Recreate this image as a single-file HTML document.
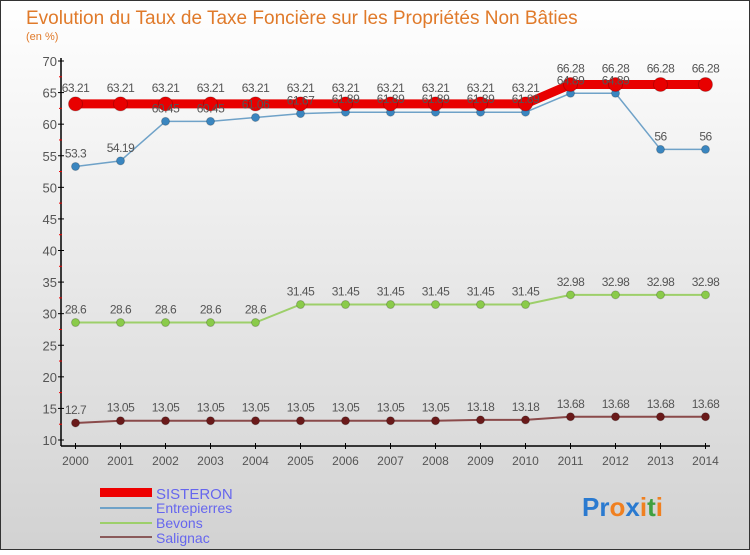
<!DOCTYPE html>
<html><head><meta charset="utf-8"><style>
body{margin:0;width:750px;height:550px;overflow:hidden;font-family:"Liberation Sans",sans-serif}
svg text{font-family:"Liberation Sans",sans-serif}
</style></head><body>
<svg id="c" width="750" height="550" xmlns="http://www.w3.org/2000/svg">
<defs><linearGradient id="bg" x1="0" y1="0" x2="0" y2="1"><stop offset="0" stop-color="#ffffff"/><stop offset="1" stop-color="#d2d2d2"/></linearGradient></defs>
<rect x="0.5" y="0.5" width="749" height="549" fill="url(#bg)" stroke="#333"/>
<text x="26" y="24" font-size="19" fill="#e07a2a">Evolution du Taux de Taxe Foncière sur les Propriétés Non Bâties</text>
<text x="26" y="40" font-size="11" fill="#e07a2a">(en %)</text>
<g id="axes"></g><g id="series"></g><g id="labels"></g>
<g>
<rect x="100" y="488" width="52" height="9" fill="#e00"/>
<text x="156" y="499" font-size="15" fill="#6666ee">SISTERON</text>
<rect x="100" y="507" width="52" height="2" fill="#6fa2c8"/>
<text x="156" y="513" font-size="14" fill="#6666ee">Entrepierres</text>
<rect x="100" y="522" width="52" height="2" fill="#9dcf6a"/>
<text x="156" y="528" font-size="14" fill="#6666ee">Bevons</text>
<rect x="100" y="536" width="52" height="2" fill="#8a5a5a"/>
<text x="156" y="543" font-size="14" fill="#6666ee">Salignac</text>
</g>
<text x="582" y="516" font-size="26" font-weight="bold"><tspan fill="#2a7ad0">Pr</tspan><tspan fill="#f08020">o</tspan><tspan fill="#2a7ad0">x</tspan><tspan fill="#f08020">i</tspan><tspan fill="#40a040">t</tspan><tspan fill="#f08020">i</tspan></text>
</svg>
<script>
const years=[2000,2001,2002,2003,2004,2005,2006,2007,2008,2009,2010,2011,2012,2013,2014];
const sisteron=[63.21,63.21,63.21,63.21,63.21,63.21,63.21,63.21,63.21,63.21,63.21,66.28,66.28,66.28,66.28];
const entrepierres=[53.3,54.19,60.45,60.45,61.06,61.67,61.89,61.89,61.89,61.89,61.89,64.89,64.89,56,56];
const bevons=[28.6,28.6,28.6,28.6,28.6,31.45,31.45,31.45,31.45,31.45,31.45,32.98,32.98,32.98,32.98];
const salignac=[12.7,13.05,13.05,13.05,13.05,13.05,13.05,13.05,13.05,13.18,13.18,13.68,13.68,13.68,13.68];
const yTicks=[10,15,20,25,30,35,40,45,50,55,60,65,70];
const NS="http://www.w3.org/2000/svg";
const X=i=>75.5+i*(705.5-75.5)/(years.length-1);
const Y=v=>440-(v-10)*(440-61)/60;
function mk(t,a,p){const e=document.createElementNS(NS,t);for(const k in a)e.setAttribute(k,a[k]);p.appendChild(e);return e;}
const ax=document.getElementById('axes'),sg=document.getElementById('series'),lg=document.getElementById('labels');
let l=mk('line',{x1:61,y1:58,x2:61,y2:446,stroke:'#000','stroke-width':1.5},ax);


l=mk('line',{x1:61,y1:446,x2:710,y2:446,stroke:'#000','stroke-width':1.5},ax);


yTicks.forEach(v=>{
 mk('line',{x1:58,x2:64,y1:Y(v),y2:Y(v),stroke:'#000'},ax);
 if(v<70)mk('line',{x1:59,x2:62,y1:Y(v+2.5),y2:Y(v+2.5),stroke:'#e00'},ax);
 const t=mk('text',{x:57,y:Y(v)+5,'font-size':13,fill:'#555','text-anchor':'end'},ax);t.textContent=v;
 
 
});
years.forEach((y,i)=>{
 mk('line',{x1:X(i),x2:X(i),y1:443,y2:449,stroke:'#000'},ax);
 const t=mk('text',{x:X(i),y:465,'font-size':12,fill:'#555','text-anchor':'middle'},ax);t.textContent=y;
 
 
});
function series(vals,name,col,w,r,dot){
 const g=mk('g',{},sg);
 
 
 mk('polyline',{points:vals.map((v,i)=>X(i)+','+Y(v)).join(' '),fill:'none',stroke:col,'stroke-width':w},g);
 vals.forEach((v,i)=>{
  const c=mk('circle',{cx:X(i),cy:Y(v),r:r,fill:dot,stroke:'rgba(0,0,0,0.2)'},g);
  
  
  const t=mk('text',{x:X(i),y:Y(v)-(r+5),'font-size':12,fill:'#555','text-anchor':'middle','letter-spacing':'-0.5'},lg);t.textContent=v;
  
  
 });
}
series(salignac,'salignac','#8a4a4a',2,4,'#6a1a1a');
series(bevons,'bevons','#9dcf6a',2,4,'#8acb4a');
series(entrepierres,'entrepierres','#6fa2c8',1.5,4,'#3a86c0');
series(sisteron,'sisteron','#e80000',9,7,'#e80000');
</script>
</body></html>
